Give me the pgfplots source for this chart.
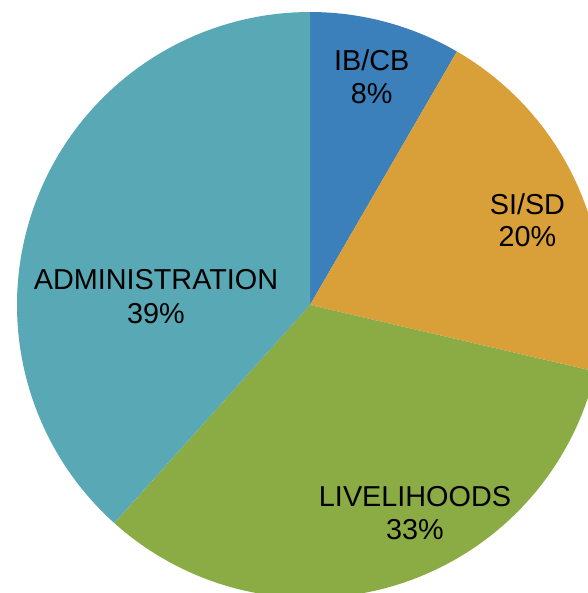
\documentclass[border=0pt]{standalone}
\usepackage{pgfplots}
\pgfplotsset{compat=1.18}
\usepackage{fontspec}
\setmainfont{Liberation Sans}
\definecolor{cIB}{HTML}{3B7FBB}
\definecolor{cSI}{HTML}{D99F38}
\definecolor{cLIV}{HTML}{8BAB44}
\definecolor{cADM}{HTML}{59A8B5}
% slice values (percent)
\def\vIB{8.36}
\def\vSI{20.28}
\def\vLIV{33.00}
\def\vADM{38.36}
\pgfmathsetmacro{\aA}{90}
\pgfmathsetmacro{\aB}{\aA-3.6*\vIB}
\pgfmathsetmacro{\aC}{\aB-3.6*\vSI}
\pgfmathsetmacro{\aD}{\aC-3.6*\vLIV}
\pgfmathsetmacro{\aE}{\aD-3.6*\vADM}
\newcommand{\lf}{\fontsize{28.8bp}{34bp}\selectfont}
\begin{document}
\begin{tikzpicture}
\begin{axis}[
  width=588bp, height=593bp, scale only axis,
  xmin=-1.0580, xmax=0.9488, ymin=-0.9829, ymax=1.0410,
  axis line style={draw=none}, ticks=none,
  clip=true,
  every axis plot/.append style={draw=none, samples=90, smooth},
]
\addplot[fill=cIB, domain=\aB:\aA] ({cos(x)},{sin(x)}) -- (axis cs:0,0) -- cycle;
\addplot[fill=cSI, domain=\aC:\aB] ({cos(x)},{sin(x)}) -- (axis cs:0,0) -- cycle;
\addplot[fill=cLIV, domain=\aD:\aC] ({cos(x)},{sin(x)}) -- (axis cs:0,0) -- cycle;
\addplot[fill=cADM, domain=\aE:\aD] ({cos(x)},{sin(x)}) -- (axis cs:0,0) -- cycle;
\node[anchor=base, inner sep=0pt] at (axis cs:0.2106,0.802) {\lf IB/CB};
\node[anchor=base, inner sep=0pt] at (axis cs:0.2106,0.689) {\lf 8\%};
\node[anchor=base, inner sep=0pt] at (axis cs:0.742,0.3096) {\lf SI/SD};
\node[anchor=base, inner sep=0pt] at (axis cs:0.742,0.199) {\lf 20\%};
\node[anchor=base, inner sep=0pt] at (axis cs:-0.5256,0.0536) {\lf ADMINISTRATION};
\node[anchor=base, inner sep=0pt] at (axis cs:-0.5256,-0.0648) {\lf 39\%};
\node[anchor=base, inner sep=0pt] at (axis cs:0.3584,-0.686) {\lf LIVELIHOODS};
\node[anchor=base, inner sep=0pt] at (axis cs:0.3584,-0.802) {\lf 33\%};
\end{axis}
\end{tikzpicture}
\end{document}
